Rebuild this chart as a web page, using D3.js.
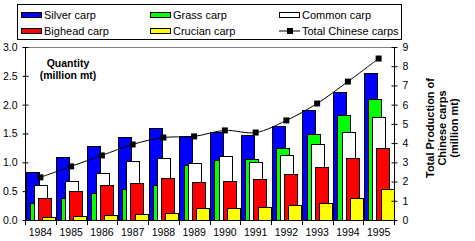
<!DOCTYPE html>
<html>
<head>
<meta charset="UTF-8">
<script src="https://cdn.jsdelivr.net/npm/d3@7"></script>
<style>
  body { margin: 0; background: #fff; }
  svg { display: block; font-family: Arial, "Liberation Sans", sans-serif; }
  .tick text { font-family: "Liberation Sans Narrow", Arial, sans-serif; font-size: 10.5px; fill: #000; }
</style>
</head>
<body>
<svg width="475" height="241"></svg>
<script>
// years on the category axis
var years = ["1984","1985","1986","1987","1988","1989","1990","1991","1992","1993","1994","1995"];

// million mt, left axis
var silver  = [0.83, 1.09, 1.28, 1.44, 1.60, 1.46, 1.53, 1.47, 1.63, 1.91, 2.22, 2.55];
var grass   = [0.29, 0.38, 0.47, 0.54, 0.61, 0.95, 1.04, 1.06, 1.25, 1.49, 1.82, 2.10];
var common  = [0.61, 0.68, 0.81, 1.02, 1.08, 0.99, 1.11, 1.01, 1.13, 1.32, 1.53, 1.79];
var bighead = [0.38, 0.51, 0.61, 0.64, 0.73, 0.66, 0.68, 0.71, 0.80, 0.92, 1.08, 1.25];
var crucian = [0.05, 0.07, 0.09, 0.10, 0.12, 0.21, 0.21, 0.23, 0.26, 0.29, 0.38, 0.54];

// million mt, right axis
var total = [2.22, 2.79, 3.36, 3.93, 4.29, 4.35, 4.66, 4.55, 5.18, 6.06, 7.20, 8.40];

var leftTicks = [0, 0.5, 1.0, 1.5, 2.0, 2.5, 3.0];
var rightTicks = [0, 1, 2, 3, 4, 5, 6, 7, 8, 9];

// drawing order as in the picture (later ones in front)
var series = [
  {name: "Silver carp", values: silver, color: "#0000ff"},
  {name: "Grass carp", values: grass, color: "#00ff00"},
  {name: "Common carp", values: common, color: "#ffffff"},
  {name: "Bighead carp", values: bighead, color: "#ff0000"},
  {name: "Crucian carp", values: crucian, color: "#ffff00"}
];

var svg = d3.select("svg");
var pLeft = 25, pRight = 394, pTop = 47, pBottom = 220;

var x = d3.scaleBand().domain(years).range([pLeft, pRight]).padding(0);
var y = d3.scaleLinear().domain([0, 3]).range([pBottom, pTop]);
var y2 = d3.scaleLinear().domain([0, 9]).range([pBottom, pTop]);

var bw = x.bandwidth();
var barW = bw * 0.423, step = bw * 0.137, off = 0.6;

// top gray border
svg.append("line")
  .attr("x1", pLeft).attr("x2", pRight).attr("y1", pTop + 0.5).attr("y2", pTop + 0.5)
  .attr("stroke", "#808080");

// bars
series.forEach(function(s, si) {
  svg.append("g").selectAll("rect")
    .data(s.values)
    .enter().append("rect")
    .attr("x", function(d, i) { return Math.round(x(years[i]) + off + si * step) + 0.5; })
    .attr("y", function(d) { return Math.round(y(d)) + 0.5; })
    .attr("width", Math.round(barW))
    .attr("height", function(d) { return Math.round(y(0)) - Math.round(y(d)); })
    .attr("fill", s.color)
    .attr("stroke", "#000")
    .attr("stroke-width", 1);
});

// total line
var line = d3.line()
  .x(function(d, i) { return x(years[i]) + bw / 2; })
  .y(function(d) { return y2(d); })
  .curve(d3.curveCatmullRom);

svg.append("path")
  .datum(total)
  .attr("d", line)
  .attr("fill", "none")
  .attr("stroke", "#000")
  .attr("stroke-width", 1);

svg.append("g").selectAll("rect")
  .data(total)
  .enter().append("rect")
  .attr("x", function(d, i) { return x(years[i]) + bw / 2 - 3; })
  .attr("y", function(d) { return y2(d) - 3; })
  .attr("width", 6).attr("height", 6)
  .attr("fill", "#000");

// axes
var gl = svg.append("g")
  .attr("transform", "translate(" + (pLeft + 0.5) + ",0)")
  .call(d3.axisLeft(y).tickValues(leftTicks).tickFormat(d3.format(".1f")).tickSize(3).tickPadding(5));
gl.selectAll(".tick line").attr("x2", 3).attr("x1", -3);

var gr = svg.append("g")
  .attr("transform", "translate(" + (pRight + 0.5) + ",0)")
  .call(d3.axisRight(y2).tickValues(rightTicks).tickFormat(d3.format("d")).tickSize(3).tickPadding(5));
gr.selectAll(".tick line").attr("x1", -3).attr("x2", 3);

var gx = svg.append("g")
  .attr("transform", "translate(0," + (pBottom + 0.5) + ")")
  .call(d3.axisBottom(x).tickSize(0).tickPadding(8));

svg.selectAll(".domain").attr("stroke", "#000");
gl.select(".domain").attr("d", "M0," + pTop + "V" + pBottom);
gr.select(".domain").attr("d", "M0," + pTop + "V" + pBottom);
gx.select(".domain").attr("d", "M" + pLeft + ",0H" + (pRight + 1));

// category separators below axis
svg.append("g").selectAll("line")
  .data(d3.range(years.length + 1))
  .enter().append("line")
  .attr("x1", function(i) { return Math.round(pLeft + i * bw) + 0.5; })
  .attr("x2", function(i) { return Math.round(pLeft + i * bw) + 0.5; })
  .attr("y1", pBottom).attr("y2", pBottom + 5)
  .attr("stroke", "#000");

// left axis title
var lt = svg.append("text")
  .attr("text-anchor", "middle")
  .attr("font-size", "10.5px").attr("font-weight", "bold");
lt.append("tspan").attr("x", 68).attr("y", 67).text("Quantity");
lt.append("tspan").attr("x", 68).attr("y", 79).text("(million mt)");

// right axis title
var rt = svg.append("text")
  .attr("transform", "translate(434,128) rotate(-90)")
  .attr("text-anchor", "middle")
  .attr("font-size", "11px").attr("font-weight", "bold");
rt.append("tspan").attr("x", 0).attr("y", 0).text("Total Production of");
rt.append("tspan").attr("x", 0).attr("y", 12).text("Chinese carps");
rt.append("tspan").attr("x", 0).attr("y", 24).text("(million mt)");

// legend
svg.append("rect")
  .attr("x", 17.5).attr("y", 4.5).attr("width", 384).attr("height", 35)
  .attr("fill", "#fff").attr("stroke", "#000");

var legendItems = [
  {name: "Silver carp", color: "#0000ff", col: 0, row: 0},
  {name: "Grass carp", color: "#00ff00", col: 1, row: 0},
  {name: "Common carp", color: "#ffffff", col: 2, row: 0},
  {name: "Bighead carp", color: "#ff0000", col: 0, row: 1},
  {name: "Crucian carp", color: "#ffff00", col: 1, row: 1},
  {name: "Total Chinese carps", color: null, col: 2, row: 1}
];
var colX = [21, 150, 279];

var lg = svg.append("g").selectAll("g")
  .data(legendItems)
  .enter().append("g")
  .attr("transform", function(d) { return "translate(" + colX[d.col] + "," + (d.row * 16) + ")"; });

lg.filter(function(d) { return d.color; })
  .append("rect")
  .attr("x", 0.5).attr("y", 12.5).attr("width", 20).attr("height", 5)
  .attr("fill", function(d) { return d.color; })
  .attr("stroke", "#000");

var tl = lg.filter(function(d) { return !d.color; });
tl.append("line").attr("x1", 0).attr("x2", 21).attr("y1", 15).attr("y2", 15).attr("stroke", "#000");
tl.append("rect").attr("x", 8).attr("y", 12).attr("width", 6).attr("height", 6).attr("fill", "#000");

lg.append("text")
  .attr("x", 23).attr("y", 19)
  .attr("font-size", "11px")
  .text(function(d) { return d.name; });
</script>
</body>
</html>
